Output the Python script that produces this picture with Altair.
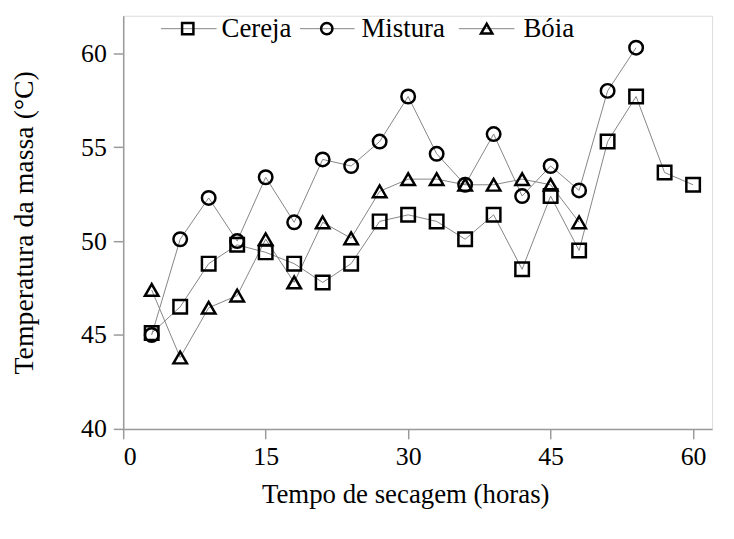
import altair as alt
import pandas as pd

# ---- data ----
series_names = ["Cereja", "Mistura", "Bóia"]

hours_cereja = [3, 6, 9, 12, 15, 18, 21, 24, 27, 30, 33, 36, 39, 42, 45, 48, 51, 54, 57, 60]
temp_cereja = [45.1, 46.5, 48.8, 49.8, 49.4, 48.8, 47.8, 48.8, 51.05, 51.4, 51.05, 50.1,
               51.4, 48.5, 52.4, 49.5, 55.3, 57.7, 53.65, 53.0]

hours_mistura = [3, 6, 9, 12, 15, 18, 21, 24, 27, 30, 33, 36, 39, 42, 45, 48, 51, 54]
temp_mistura = [45.0, 50.1, 52.3, 50.0, 53.4, 51.0, 54.35, 54.0, 55.3, 57.7, 54.65, 53.0,
                55.7, 52.4, 54.0, 52.7, 58.0, 60.3]

hours_boia = [3, 6, 9, 12, 15, 18, 21, 24, 27, 30, 33, 36, 39, 42, 45, 48]
temp_boia = [47.4, 43.8, 46.45, 47.1, 50.1, 47.8, 51.0, 50.15, 52.65, 53.3, 53.3, 53.0,
             53.0, 53.3, 53.0, 51.0]

x_ticks = [0, 15, 30, 45, 60]
y_ticks = [40, 45, 50, 55, 60]

rows = []
for name, hs, ts in [("Cereja", hours_cereja, temp_cereja),
                     ("Mistura", hours_mistura, temp_mistura),
                     ("Bóia", hours_boia, temp_boia)]:
    for h, t in zip(hs, ts):
        rows.append({"Horas": h, "Temp": t, "Serie": name})
df = pd.DataFrame(rows)

FONT = "Liberation Serif"
LINE_COLOR = "#858585"
AXIS_COLOR = "#9a9a9a"
shapes = ["square", "circle", "triangle-up"]

x_enc = alt.X("Horas:Q",
              scale=alt.Scale(domain=[0, 62], nice=False, zero=False),
              axis=alt.Axis(values=x_ticks, grid=False, title="Tempo de secagem (horas)",
                            domainColor=AXIS_COLOR, tickColor=AXIS_COLOR, tickSize=10,
                            domainWidth=1.5, tickWidth=1.5,
                            labelFont=FONT, labelFontSize=26, labelColor="black",
                            labelPadding=5, titleFont=FONT, titleFontSize=27,
                            titleFontWeight="normal", titleColor="black", titlePadding=12,
                            titleX=284, titleAlign="center", titleAnchor="start"))
y_enc = alt.Y("Temp:Q",
              scale=alt.Scale(domain=[40, 62], nice=False, zero=False),
              axis=alt.Axis(values=y_ticks, grid=False, title="Temperatura da massa (°C)",
                            domainColor=AXIS_COLOR, tickColor=AXIS_COLOR, tickSize=10,
                            domainWidth=1.5, tickWidth=1.5,
                            labelFont=FONT, labelFontSize=26, labelColor="black",
                            labelPadding=7, titleFont=FONT, titleFontSize=28,
                            titleFontWeight="normal", titleColor="black", titlePadding=42))

base = alt.Chart(df)
lines = base.mark_line(color=LINE_COLOR, strokeWidth=1).encode(
    x=x_enc, y=y_enc, detail="Serie:N")
points = base.mark_point(filled=False, color="black", strokeWidth=2.5, size=185, opacity=1).encode(
    x=x_enc, y=y_enc,
    shape=alt.Shape("Serie:N", scale=alt.Scale(domain=series_names, range=shapes), legend=None))

# ---- hand-drawn legend (line + marker + label), placed in plot pixels ----
legend_layout = [  # (line start, line end, marker x, text x)
    (38, 94, 65, 99),
    (178, 233, 205, 240),
    (338, 394, 366, 403),
]
LEG_Y = 13
legend_layers = []
for name, shp, (x0, x1, xm, xt) in zip(series_names, shapes, legend_layout):
    d = alt.Data(values=[{"s": name}])
    legend_layers.append(alt.Chart(d).mark_rule(color=LINE_COLOR, strokeWidth=1).encode(
        x=alt.value(x0), x2=alt.value(x1), y=alt.value(LEG_Y)))
    legend_layers.append(alt.Chart(d).mark_point(shape=shp, filled=False, color="black",
                                                 strokeWidth=2.5, size=130, opacity=1).encode(
        x=alt.value(xm), y=alt.value(LEG_Y)))
    legend_layers.append(alt.Chart(d).mark_text(align="left", baseline="middle", font=FONT,
                                                fontSize=27, color="black").encode(
        x=alt.value(xt), y=alt.value(LEG_Y), text="s:N"))

chart = alt.layer(lines, points, *legend_layers).properties(
    width=593, height=416,
    autosize=alt.AutoSizeParams(type="none"),
    padding={"left": 116, "top": 6, "right": 14, "bottom": 100},
).configure_view(stroke=None).configure(background="white")

chart.save("out.html", embed_options={"renderer": "svg", "actions": False})
